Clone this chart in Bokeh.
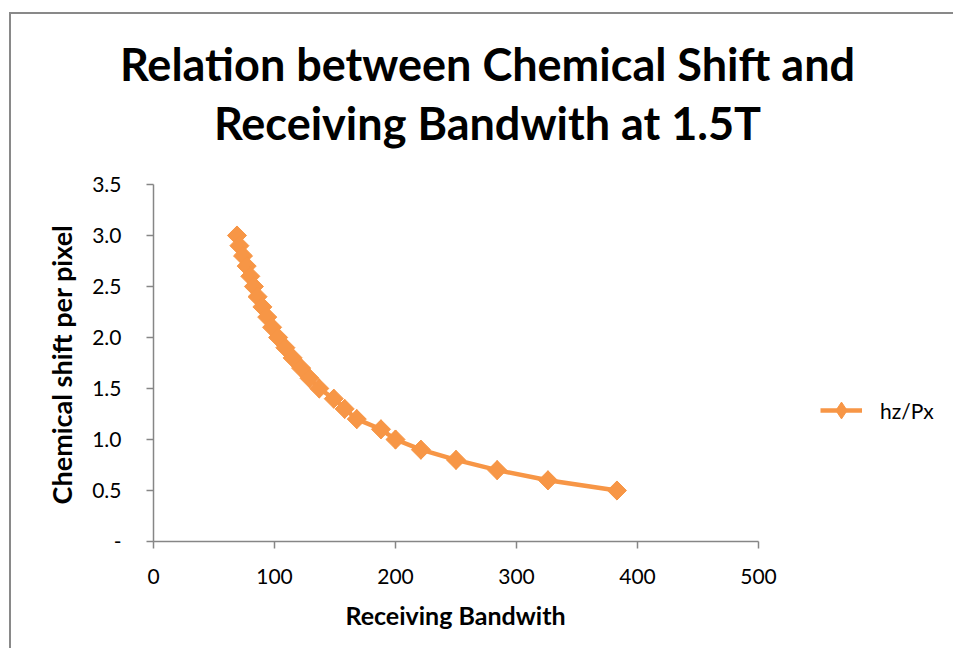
from bokeh.plotting import figure
from bokeh.models import Legend, LegendItem, FixedTicker, NumeralTickFormatter, Range1d, Label
from bokeh.embed import file_html
from bokeh.resources import INLINE
import math

# ---- data ----
bandwidth = [69, 71, 74, 77, 80, 83, 86, 90, 94, 98, 103, 109, 115, 122, 129, 137,
             149, 158, 168, 188, 200, 221, 250, 284, 326, 383]
shift_per_pixel = [3.0, 2.9, 2.8, 2.7, 2.6, 2.5, 2.4, 2.3, 2.2, 2.1, 2.0, 1.9, 1.8, 1.7,
                   1.6, 1.5, 1.4, 1.3, 1.2, 1.1, 1.0, 0.9, 0.8, 0.7, 0.6, 0.5]
x_ticks = [0, 100, 200, 300, 400, 500]
y_ticks = [0, 0.5, 1.0, 1.5, 2.0, 2.5, 3.0, 3.5]
series_name = "hz/Px"
title_lines = ["Relation between Chemical Shift and", "Receiving Bandwith at 1.5T"]
x_label = "Receiving Bandwith"
y_label = "Chemical shift per pixel"

ORANGE = "#F79646"
AXIS = "#868686"
FONT = "Lato"

# layout (page pixels); the canvas sits at page offset (11, 14)
OX, OY = 11, 14
W, H = 946, 636
X0_PAGE, Y0_PAGE = 153, 541        # where (0, 0) lies on the page
PX_X = 605 / 500                   # pixels per x unit
PX_Y = 357 / 3.5                   # pixels per y unit


def dx(page_x):
    return (page_x - X0_PAGE) / PX_X


def dy(page_y):
    return (Y0_PAGE - page_y) / PX_Y


p = figure(width=W, height=H, output_backend="svg", toolbar_location=None,
           x_range=Range1d(dx(OX), dx(OX + W)), y_range=Range1d(dy(OY + H), dy(OY)),
           min_border_left=0, min_border_right=0, min_border_top=0, min_border_bottom=0)
# chart frame: grey edge on the left and top (as in the cropped reference)
p.styles = {"margin-left": f"{OX}px", "margin-top": f"{OY}px",
            "box-shadow": "-2px -2px 0px 0px #898989"}
p.outline_line_color = None
p.xgrid.visible = False
p.ygrid.visible = False
p.background_fill_color = "white"
p.border_fill_color = "white"

for ax in (p.xaxis[0], p.yaxis[0]):
    ax.fixed_location = 0
    ax.axis_line_color = AXIS
    ax.axis_line_width = 1.5
    ax.major_tick_line_color = AXIS
    ax.major_tick_line_width = 1.5
    ax.major_tick_in = 0
    ax.major_tick_out = 7
    ax.minor_tick_line_color = None
    ax.major_label_text_font = FONT
    ax.major_label_text_color = "black"
    ax.major_label_text_font_size = "21px"

p.xaxis.bounds = (0, 500)
p.yaxis.bounds = (0, 3.5)
p.xaxis.ticker = FixedTicker(ticks=x_ticks)
p.yaxis.ticker = FixedTicker(ticks=y_ticks)
p.yaxis.formatter = NumeralTickFormatter(format="0.0")
p.yaxis.major_label_overrides = {0: "-"}
p.xaxis.major_label_standoff = 20
p.yaxis.major_label_standoff = 25

line = p.line(bandwidth, shift_per_pixel, line_color=ORANGE, line_width=4.5)
# diamond used for the legend swatch; it sits hidden under the rotated squares
swatch = p.scatter(bandwidth, shift_per_pixel, marker="diamond", size=19,
                   fill_color=ORANGE, line_color=ORANGE)
pts = p.scatter(bandwidth, shift_per_pixel, marker="square", angle=math.pi / 4, size=13.5,
                fill_color=ORANGE, line_color=ORANGE)

legend = Legend(items=[LegendItem(label=series_name, renderers=[line, swatch])],
                location=(820 - OX, OY + H - 434), orientation="vertical",
                glyph_width=42, glyph_height=48, label_standoff=18,
                padding=0, margin=0, border_line_color=None, background_fill_alpha=0,
                label_text_font=FONT, label_text_font_size="21px", label_text_color="black")
p.add_layout(legend, "center")

# axis titles
p.add_layout(Label(x=dx(455), y=dy(614), text=x_label, text_align="center",
                   text_baseline="middle", text_font=FONT, text_font_style="bold",
                   text_font_size="25px", text_color="black"))
p.add_layout(Label(x=dx(61), y=dy(364), text=y_label, angle=math.pi / 2,
                   text_align="center", text_baseline="middle", text_font=FONT,
                   text_font_style="bold", text_font_size="27px", text_color="black"))

# two-line title, centred over the chart
for txt, mid in zip(title_lines, [63, 122]):
    p.add_layout(Label(x=dx(487), y=dy(mid), text=txt,
                       text_align="center", text_baseline="middle",
                       text_font=FONT, text_font_style="bold", text_font_size="45px",
                       text_color="black"))

open("out.html", "w").write(file_html(p, INLINE))
